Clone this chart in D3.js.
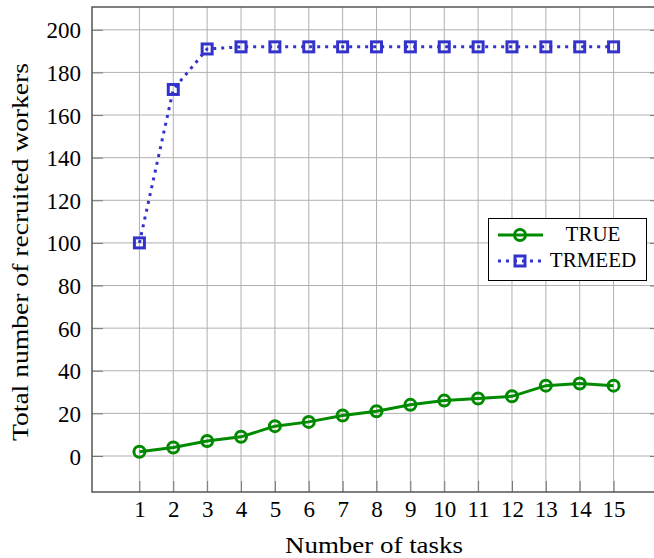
<!DOCTYPE html>
<html>
<head>
<meta charset="utf-8">
<script src="https://cdn.jsdelivr.net/npm/d3@7"></script>
</head>
<body style="margin:0;background:#fff">
<div id="chart"></div>
<script>
(function () {

    var tasks = [1, 2, 3, 4, 5, 6, 7, 8, 9, 10, 11, 12, 13, 14, 15];
    var trueValues = [2, 4, 7, 9, 14, 16, 19, 21, 24, 26, 27, 28, 33, 34, 33];
    var trmeedValues = [100, 172, 191, 192, 192, 192, 192, 192, 192, 192, 192, 192, 192, 192, 192];
    var yTicks = [0, 20, 40, 60, 80, 100, 120, 140, 160, 180, 200];
    var seriesNames = ["TRUE", "TRMEED"];

    var width = 654;
    var height = 558;
    var left = 92, top = 7, right = 661, bottom = 492;
    var serif = "'Liberation Serif'";

    var svg = d3.select("#chart").append("svg")
        .attr("width", width).attr("height", height);

    var x = d3.scaleLinear().domain([-0.4, 16.4]).range([left, right]);
    var y = d3.scaleLinear().domain([-16.9, 210.7]).range([bottom, top]);

    // grid
    svg.append("g").selectAll("line").data(tasks).join("line")
        .attr("x1", d => x(d)).attr("x2", d => x(d))
        .attr("y1", top).attr("y2", bottom)
        .attr("stroke", "#b0b0b0").attr("stroke-width", 1);
    svg.append("g").selectAll("line").data(yTicks).join("line")
        .attr("x1", left).attr("x2", right)
        .attr("y1", d => y(d)).attr("y2", d => y(d))
        .attr("stroke", "#b0b0b0").attr("stroke-width", 1);

    // axes (ticks inward, labels outside)
    var xAxis = d3.axisBottom(x).tickValues(tasks).tickSize(-11).tickPadding(9).tickFormat(d3.format("d"));
    var yAxis = d3.axisLeft(y).tickValues(yTicks).tickSize(-11).tickPadding(11).tickFormat(d3.format("d"));

    var gx = svg.append("g").attr("transform", "translate(0," + bottom + ")").call(xAxis);
    var gy = svg.append("g").attr("transform", "translate(" + left + ",0)").call(yAxis);
    var gyr = svg.append("g").attr("transform", "translate(" + right + ",0)")
        .call(d3.axisRight(y).tickValues(yTicks).tickSize(-11).tickFormat(""));
    [gx, gy, gyr].forEach(function (g) {
        g.attr("font-family", null).attr("font-size", null);
        g.select(".domain").remove();
        g.selectAll(".tick line").attr("stroke", "#777").attr("stroke-width", 1);
        g.selectAll(".tick text")
            .style("font-family", serif).style("font-size", "23px").attr("fill", "#000");
    });
    gy.selectAll(".tick text").attr("dy", "0.35em");

    // frame
    svg.append("rect").attr("x", left).attr("y", top)
        .attr("width", right - left).attr("height", bottom - top)
        .attr("fill", "none").attr("stroke", "#555").attr("stroke-width", 1.5);

    // series
    var green = "#008a00", blue = "#3333cc";
    var line = d3.line().x((d, i) => x(tasks[i])).y(d => y(d));

    svg.append("path").datum(trmeedValues).attr("d", line)
        .attr("fill", "none").attr("stroke", blue).attr("stroke-width", 3)
        .attr("stroke-dasharray", "3 5");
    svg.append("g").selectAll("rect").data(trmeedValues).join("rect")
        .attr("x", (d, i) => x(tasks[i]) - 5).attr("y", d => y(d) - 5)
        .attr("width", 10).attr("height", 10)
        .attr("fill", "none").attr("stroke", blue).attr("stroke-width", 3);

    svg.append("path").datum(trueValues).attr("d", line)
        .attr("fill", "none").attr("stroke", green).attr("stroke-width", 3);
    svg.append("g").selectAll("circle").data(trueValues).join("circle")
        .attr("cx", (d, i) => x(tasks[i])).attr("cy", d => y(d))
        .attr("r", 5.5)
        .attr("fill", "none").attr("stroke", green).attr("stroke-width", 3);

    // legend
    var lg = svg.append("g");
    lg.append("rect").attr("x", 488.5).attr("y", 218.5).attr("width", 158).attr("height", 62)
        .attr("fill", "#fff").attr("stroke", "#000").attr("stroke-width", 1);
    var rows = [235, 261];
    lg.append("line").attr("x1", 498).attr("x2", 543).attr("y1", rows[0]).attr("y2", rows[0])
        .attr("stroke", green).attr("stroke-width", 3);
    lg.append("circle").attr("cx", 520).attr("cy", rows[0]).attr("r", 5.5)
        .attr("fill", "none").attr("stroke", green).attr("stroke-width", 3);
    lg.append("line").attr("x1", 498).attr("x2", 543).attr("y1", rows[1]).attr("y2", rows[1])
        .attr("stroke", blue).attr("stroke-width", 3).attr("stroke-dasharray", "3 5");
    lg.append("rect").attr("x", 515).attr("y", rows[1] - 5).attr("width", 10).attr("height", 10)
        .attr("fill", "none").attr("stroke", blue).attr("stroke-width", 3);
    lg.selectAll("text.lbl").data(seriesNames).join("text")
        .attr("class", "lbl")
        .attr("x", 593).attr("y", (d, i) => rows[i] - 1)
        .attr("dy", "0.35em").attr("text-anchor", "middle")
        .style("font-family", serif).style("font-size", "21px").text(d => d);

    // axis titles
    svg.append("text").attr("x", 374).attr("y", 553)
        .attr("text-anchor", "middle")
        .attr("textLength", 178).attr("lengthAdjust", "spacingAndGlyphs")
        .style("font-family", serif).style("font-size", "23px")
        .text("Number of tasks");
    svg.append("text").attr("transform", "translate(28,252) rotate(-90)")
        .attr("text-anchor", "middle")
        .attr("textLength", 378).attr("lengthAdjust", "spacingAndGlyphs")
        .style("font-family", serif).style("font-size", "23px")
        .text("Total number of recruited workers");
})();
</script>
</body>
</html>
